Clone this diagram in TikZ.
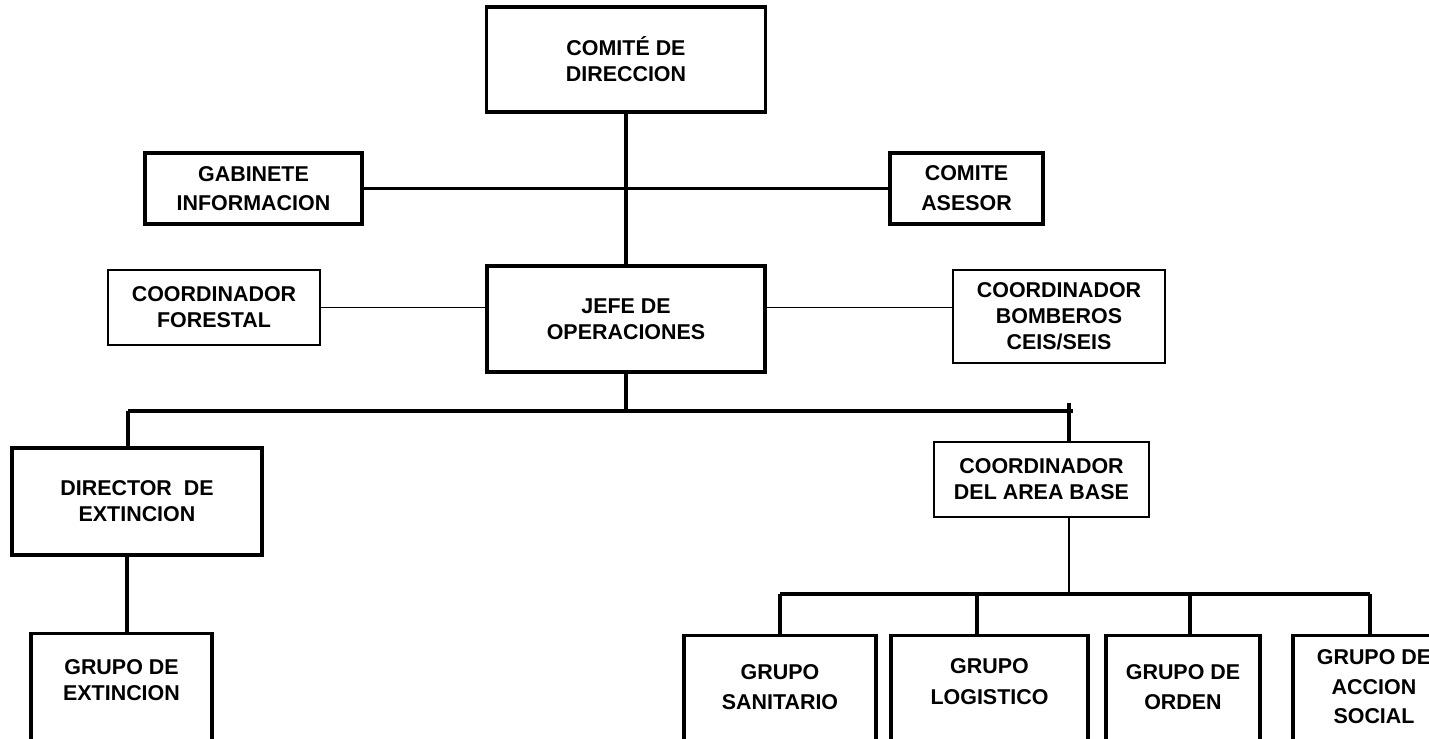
\documentclass[tikz,border=0pt]{standalone}
\usepackage{fontspec}
\setmainfont{Liberation Sans}
\usepackage{tikz}

\begin{document}
\begin{tikzpicture}[x=0.02cm, y=-0.02cm,
  caja/.style={draw, line width=1.9pt, align=center, inner sep=0pt,
    font=\fontsize{12.2}{14.7}\bfseries\selectfont},
  cajafina/.style={caja, line width=0.9pt},
  grupo/.style={caja, anchor=north, text depth=3cm},
  linea/.style={line width=2pt},
  lineafina/.style={line width=0.85pt}]
\useasboundingbox (0,0) rectangle (1429,739);
\clip (0,0) rectangle (1429,739);

\node[caja, minimum width=5.58cm, minimum height=2.1cm] (dir) at (626,59.5) {COMITÉ DE\\DIRECCION};
\node[caja, minimum width=4.34cm, minimum height=1.42cm] (gab) at (253.5,188.5) {GABINETE\\[2pt]INFORMACION};
\node[caja, minimum width=3.06cm, minimum height=1.42cm] (ase) at (966.5,188.5) {COMITE\\[2.5pt]ASESOR};
\node[cajafina, minimum width=4.24cm, minimum height=1.5cm] (for) at (214,307.5) {COORDINADOR\\FORESTAL};
\node[caja, minimum width=5.56cm, minimum height=2.12cm] (jefe) at (626,319) {JEFE DE\\OPERACIONES};
\node[cajafina, minimum width=4.24cm, minimum height=1.86cm] (bom) at (1059,316.5) {COORDINADOR\\BOMBEROS\\CEIS/SEIS};
\node[caja, minimum width=5cm, minimum height=2.14cm] (ext) at (137,501.5) {DIRECTOR\ \ DE\\EXTINCION};
\node[cajafina, minimum width=4.3cm, minimum height=1.5cm] (area) at (1041.5,479.5) {COORDINADOR\\DEL AREA BASE};

\node[grupo, minimum width=3.62cm, text height=1.34cm] (gext) at (121.5,632) {GRUPO DE\\EXTINCION};
\node[grupo, minimum width=3.84cm, text height=1.48cm] (san) at (780,634) {GRUPO\\[2.3pt]SANITARIO};
\node[grupo, minimum width=3.94cm, text height=1.38cm] (log) at (989.5,634) {GRUPO\\[2.8pt]LOGISTICO};
\node[grupo, minimum width=3.08cm, text height=1.48cm] (ord) at (1183,634) {GRUPO DE\\[2.3pt]ORDEN};
\node[grupo, minimum width=3.24cm, text height=1.76cm] (acc) at (1374,634) {GRUPO DE\\[2.3pt]ACCION\\[2pt]SOCIAL};

\coordinate (c1) at (128,411);
\coordinate (c2) at (1073,411);
\coordinate (c3) at (1069,403);
\coordinate (d1) at (127,0);
\coordinate (g1) at (780,594);
\coordinate (g2) at (1370,594);
\coordinate (g3) at (977,594);
\coordinate (g4) at (1190,594);

\draw[linea] (dir) -- (jefe);
\draw[linea] (gab) -- (ase);
\draw[lineafina] (for.east) -- (for.east -| jefe.west);
\draw[lineafina] (for.east -| jefe.east) -- (for.east -| bom.west);
\draw[linea] (jefe.south) -- (jefe.south |- c1);
\draw[linea] (c1) -- (c2);
\draw[linea] (c1) -- (c1 |- ext.north);
\draw[linea] (c3) -- (c3 |- area.north);
\draw[linea] (ext.south -| d1) -- (gext.north -| d1);
\draw[lineafina] (area.south -| c3) -- (c3 |- g1);
\draw[linea] (g1) -- (g2);
\draw[linea] (g1) -- (san.north);
\draw[linea] (g3) -- (g3 |- log.north);
\draw[linea] (g4) -- (g4 |- ord.north);
\draw[linea] (g2) -- (g2 |- acc.north);
\end{tikzpicture}
\end{document}
